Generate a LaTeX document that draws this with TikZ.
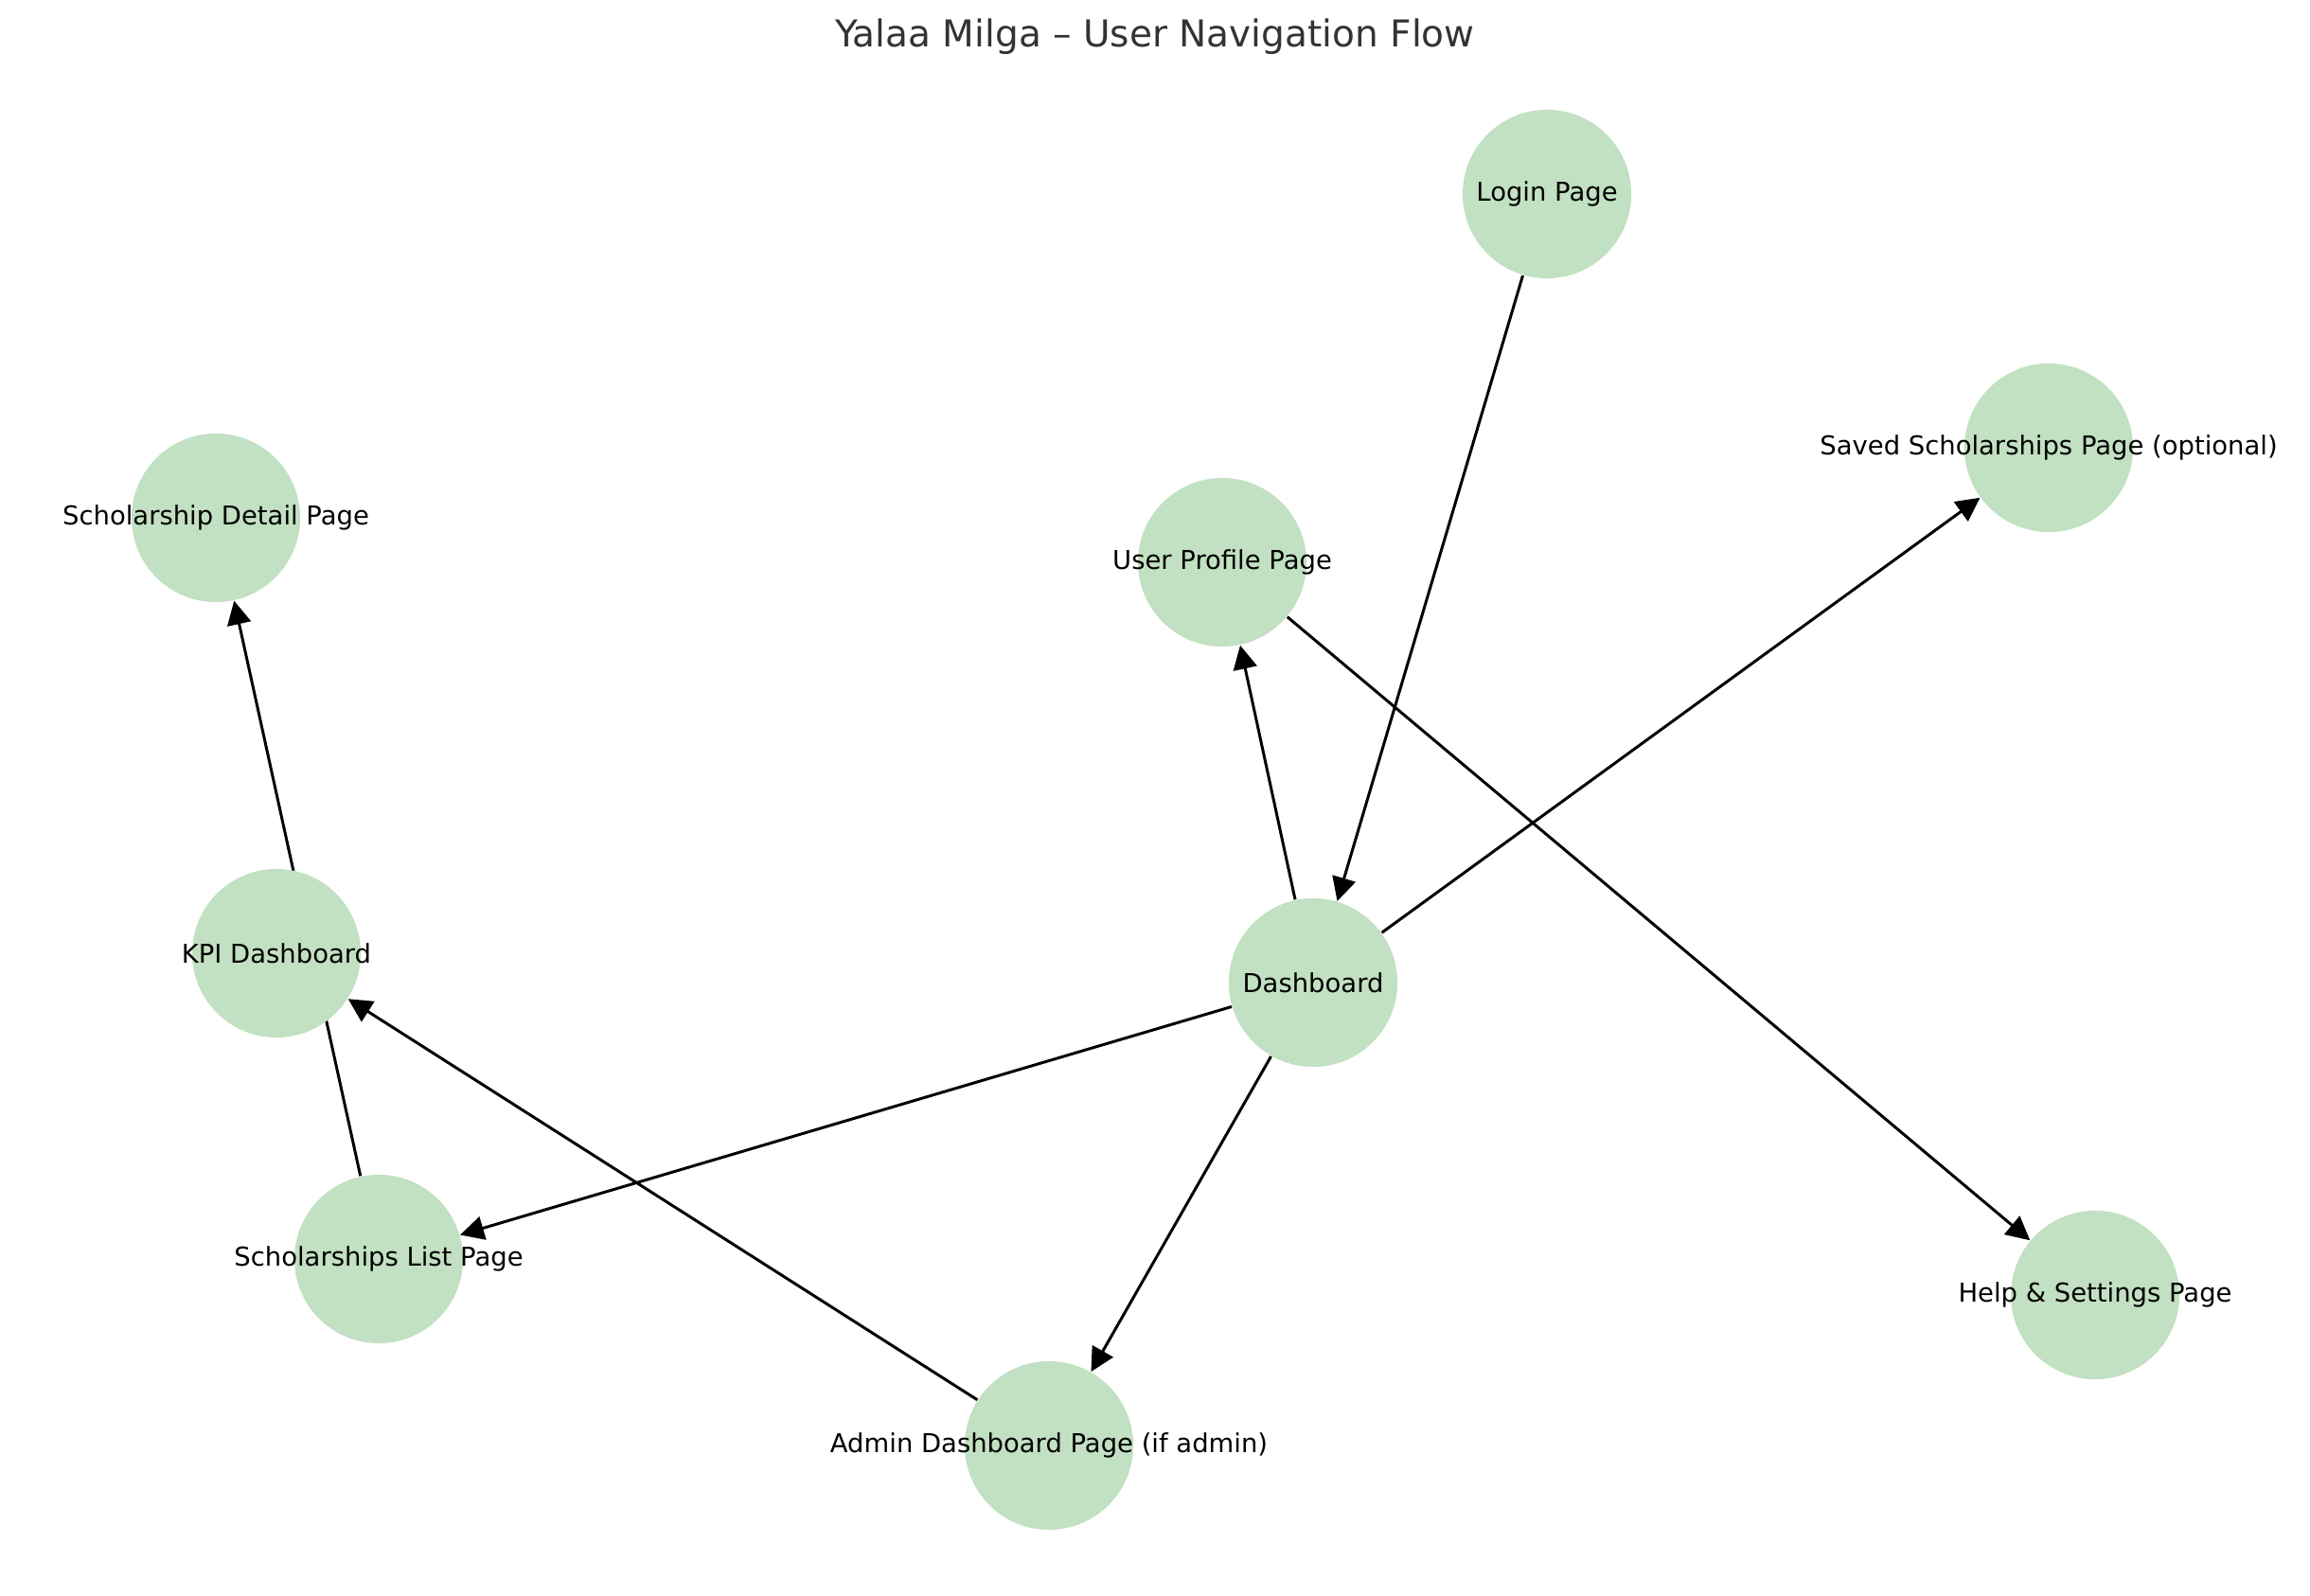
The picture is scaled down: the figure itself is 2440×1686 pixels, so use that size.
\documentclass[tikz,border=0pt]{standalone}
\usepackage{fontspec}
\setmainfont{DejaVu Sans}
\usepackage{xcolor}
\usepackage{tikz}
\usetikzlibrary{arrows.meta}
\usetikzlibrary{backgrounds}

\definecolor{pagegreen}{RGB}{194,224,194}
\definecolor{titlegray}{RGB}{51,51,51}

\tikzset{
  page/.style={circle,fill=pagegreen,minimum size=1.78cm,inner sep=0pt,font=\fontsize{7.8}{9.5}\selectfont},
  flow/.style={line width=0.85pt,-{Triangle[length=0.25cm,width=0.25cm]}}
}

\begin{document}
\begin{tikzpicture}[x=0.01cm,y=-0.01cm]

\useasboundingbox (0,0) rectangle (2440,1686);							% Rahmen

\node[text=titlegray,font=\fontsize{11.1}{13.5}\selectfont] (title) at (1220,39) {Yalaa Milga – User Navigation Flow};	% Titel

\node[page] (login) at (1634,205) {\makebox[0pt]{Login Page}};						% Login
\node[page] (saved) at (2164,473) {\makebox[0pt]{Saved Scholarships Page (optional)}};	% gemerkt
\node[page] (profile) at (1291,594) {\makebox[0pt]{User Profile Page}};				% Profil
\node[page] (detail) at (228,547) {\makebox[0pt]{Scholarship Detail Page}};			% Detail
\node[page] (kpi) at (292,1007) {\makebox[0pt]{KPI Dashboard}};						% KPI
\node[page] (dash) at (1387,1038) {\makebox[0pt]{Dashboard}};						% Dashboard
\node[page] (list) at (400,1330) {\makebox[0pt]{Scholarships List Page}};			% Liste
\node[page] (help) at (2213,1368) {\makebox[0pt]{Help \& Settings Page}};			% Hilfe
\node[page] (admin) at (1108,1527) {\makebox[0pt]{Admin Dashboard Page (if admin)}};	% Admin

\begin{scope}[on background layer]
\draw[flow] (login) -- (dash);						% Login zum Dashboard
\draw[flow] (dash) -- (profile);					% Dashboard zum Profil
\draw[flow] (dash) -- (saved);						% Dashboard zu gemerkt
\draw[flow] (dash) -- (list);						% Dashboard zur Liste
\draw[flow] (dash) -- (admin);						% Dashboard zu Admin
\draw[flow] (profile) -- (help);					% Profil zur Hilfe
\draw[flow] (list) -- (detail);						% Liste zum Detail (unter KPI)
\draw[flow] (admin) -- (kpi);						% Admin zu KPI
\end{scope}

\end{tikzpicture}
\end{document}
